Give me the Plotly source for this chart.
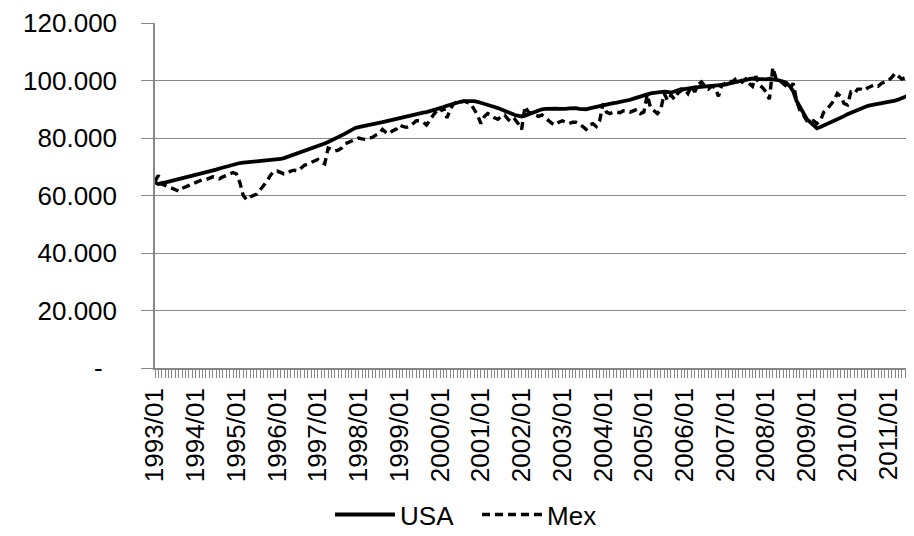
import plotly.graph_objects as go

years = list(range(1993, 2012))
months = [f"{y}/{m:02d}" for y in years for m in range(1, 13)][:224]

usa = [
    64.5, 64.0, 64.2, 64.5, 64.8, 65.0, 65.3, 65.5, 65.8, 66.0, 66.3, 66.7,   # 1993
    67.0, 67.3, 67.7, 68.0, 68.4, 68.7, 69.0, 69.4, 69.7, 70.0, 70.4, 70.8,   # 1994
    71.2, 71.3, 71.4, 71.5, 71.6, 71.7, 71.8, 71.9, 72.0, 72.2, 72.4, 72.5,   # 1995
    72.6, 72.7, 73.0, 73.4, 73.8, 74.2, 74.6, 75.0, 75.5, 75.9, 76.3, 76.8,   # 1996
    77.2, 77.6, 78.1, 78.6, 79.1, 79.7, 80.3, 80.9, 81.5, 82.2, 82.9, 83.5,   # 1997
    83.8, 84.0, 84.2, 84.4, 84.6, 84.9, 85.2, 85.5, 85.8, 86.1, 86.4, 86.7,   # 1998
    87.0, 87.3, 87.5, 87.8, 88.0, 88.3, 88.5, 88.8, 89.0, 89.3, 89.6, 90.0,   # 1999
    90.4, 90.8, 91.2, 91.6, 92.0, 92.3, 92.6, 92.8, 92.9, 92.9, 92.8, 92.6,   # 2000
    92.3, 92.0, 91.6, 91.2, 90.8, 90.4, 90.0, 89.5, 89.0, 88.5, 88.0, 87.6,   # 2001
    87.5, 87.8, 88.3, 88.8, 89.3, 89.7, 90.0, 90.1, 90.2, 90.3, 90.2, 90.1,   # 2002
    90.0, 90.1, 90.3, 90.5, 90.4, 90.1, 89.9, 90.0, 90.3, 90.6, 90.9, 91.2,   # 2003
    91.5, 91.7, 91.9, 92.1, 92.3, 92.5, 92.7, 93.0, 93.3, 93.7, 94.1, 94.6,   # 2004
    95.0, 95.3, 95.5, 95.7, 95.9, 96.0, 96.1, 96.0, 95.8, 96.2, 96.6, 97.0,   # 2005
    97.0, 97.3, 97.5, 97.6, 97.7, 97.8, 98.0, 98.0, 97.9, 98.1, 98.3, 98.5,   # 2006
    98.6, 98.9, 99.2, 99.5, 99.8, 100.1, 100.4, 100.6, 100.7, 100.6, 100.5, 100.4,  # 2007
    100.4, 100.6, 100.5, 100.3, 100.0, 99.6, 99.2, 98.0, 96.3, 92.9, 90.6, 88.3,    # 2008
    86.6, 85.5, 84.4, 83.4, 83.8, 84.3, 84.8, 85.3, 85.9, 86.5, 87.0, 87.6,   # 2009
    88.3, 88.8, 89.3, 89.8, 90.3, 90.8, 91.2, 91.4, 91.6, 91.8, 92.0, 92.3,   # 2010
    92.6, 92.8, 93.0, 93.4, 93.8, 94.2, 94.6, 95.2,                           # 2011
]

mex = [
    65.0, 67.0, 64.0, 63.5, 63.0, 62.5, 62.0, 61.5, 62.5, 63.0, 63.5, 64.0,   # 1993
    64.5, 65.0, 65.5, 65.5, 66.0, 66.5, 66.3, 65.8, 66.5, 67.0, 67.5, 68.0,   # 1994
    67.5, 64.5, 60.0, 58.5, 59.5, 60.0, 60.5, 62.0, 63.5, 65.0, 67.0, 68.5,   # 1995
    68.5, 68.0, 67.5, 67.8, 68.5, 68.8, 68.5, 69.5, 70.5, 71.0, 71.5, 72.2,   # 1996
    72.5, 71.5, 71.0, 76.5, 76.0, 75.5, 75.8, 76.5, 78.0, 78.5, 79.0, 79.7,   # 1997
    80.0, 79.7, 79.5, 80.0, 80.2, 81.0, 81.5, 83.0, 82.0, 81.4, 82.5, 83.0,   # 1998
    84.5, 84.0, 83.7, 84.0, 85.0, 86.0, 86.0, 85.5, 84.5, 86.5, 88.0, 89.5,   # 1999
    89.0, 90.5, 87.0, 90.0, 92.0, 92.5, 92.5, 92.8, 92.5, 92.0, 90.0, 88.0,   # 2000
    85.0, 87.5, 88.5, 88.0, 87.0, 86.5, 87.5, 88.0, 86.5, 85.5, 86.5, 85.0,   # 2001
    83.0, 91.0, 89.0, 88.5, 88.0, 87.5, 88.0, 87.0, 86.0, 85.0, 84.5, 85.5,   # 2002
    86.0, 85.5, 85.0, 85.5, 85.5, 85.0, 84.0, 83.0, 84.5, 85.0, 84.0, 86.0,   # 2003
    92.0, 89.0, 88.5, 89.0, 89.0, 88.8, 89.5, 89.5, 89.0, 89.5, 90.0, 88.5,   # 2004
    89.0, 95.0, 90.5, 89.5, 88.5, 90.0, 95.5, 93.0, 95.0, 93.5, 95.5, 96.5,   # 2005
    97.0, 95.5, 98.0, 96.0, 98.5, 99.5, 98.0, 97.0, 98.0, 97.5, 94.5, 98.5,   # 2006
    99.0, 100.0, 99.5, 100.5, 101.0, 99.5, 100.5, 99.0, 98.0, 101.5, 98.5, 97.5,  # 2007
    96.0, 93.5, 104.5, 100.5, 100.0, 99.0, 98.0, 97.0, 99.0, 93.0, 89.5, 88.0,    # 2008
    86.0, 85.5, 86.0, 85.0, 86.0, 89.0, 90.0, 91.5, 93.0, 95.5, 94.5, 92.0,   # 2009
    91.5, 96.0, 95.5, 97.0, 97.0, 96.5, 97.5, 98.0, 98.5, 98.0, 99.0, 99.5,   # 2010
    100.0, 101.0, 102.5, 101.5, 100.5, 101.0, 103.0, 102.5,                   # 2011
]

y_ticks = [0, 20, 40, 60, 80, 100, 120]
y_labels = ["-\u00a0\u00a0", "20.000", "40.000", "60.000", "80.000", "100.000", "120.000"]
x_tickvals = list(range(0, len(months), 12))
x_ticklabels = [months[i] for i in x_tickvals]

xs = list(range(len(months)))
grid = "#878787"
font = dict(family="Arial, Liberation Sans, sans-serif", size=26, color="#000000")

fig = go.Figure()
fig.add_trace(go.Scatter(x=xs, y=usa, name="USA", mode="lines",
                         line=dict(color="#000000", width=3.8)))
fig.add_trace(go.Scatter(x=xs, y=mex, name="Mex", mode="lines",
                         line=dict(color="#000000", width=3.4, dash="8px,5px")))

# page body adds an 8px margin, so the figure is sized to fit the 914x536 window
fig.update_layout(
    width=906, height=528,
    margin=dict(l=147, r=2, t=15, b=168, autoexpand=False),
    paper_bgcolor="white", plot_bgcolor="white",
    font=font,
    showlegend=True,
    legend=dict(orientation="h", x=0.2312, xanchor="left", y=-0.425, yanchor="middle",
                font=dict(size=26), itemwidth=60, entrywidth=72,
                bgcolor="rgba(0,0,0,0)"),
    xaxis=dict(
        range=[0, len(months) - 1], automargin=False,
        tickmode="array", tickvals=x_tickvals, ticktext=x_ticklabels,
        tickangle=-90, ticks="outside", ticklen=8, tickcolor=grid, tickwidth=1,
        showgrid=False, showline=True, linecolor=grid, linewidth=1.5,
        zeroline=False, tickfont=font, ticklabeloverflow="allow",
        minor=dict(dtick=1, tick0=0, ticks="outside", ticklen=8, tickcolor=grid,
                   tickwidth=1, showgrid=False),
    ),
    yaxis=dict(
        range=[0, 120], automargin=False,
        tickmode="array", tickvals=y_ticks, ticktext=y_labels,
        ticks="outside", ticklen=12, tickcolor=grid, tickwidth=1,
        showgrid=True, gridcolor=grid, gridwidth=1,
        showline=True, linecolor=grid, linewidth=1.5,
        zeroline=False, tickfont=font, ticklabelstandoff=19,
        ticklabeloverflow="allow",
    ),
)

fig.write_html("out.html")
